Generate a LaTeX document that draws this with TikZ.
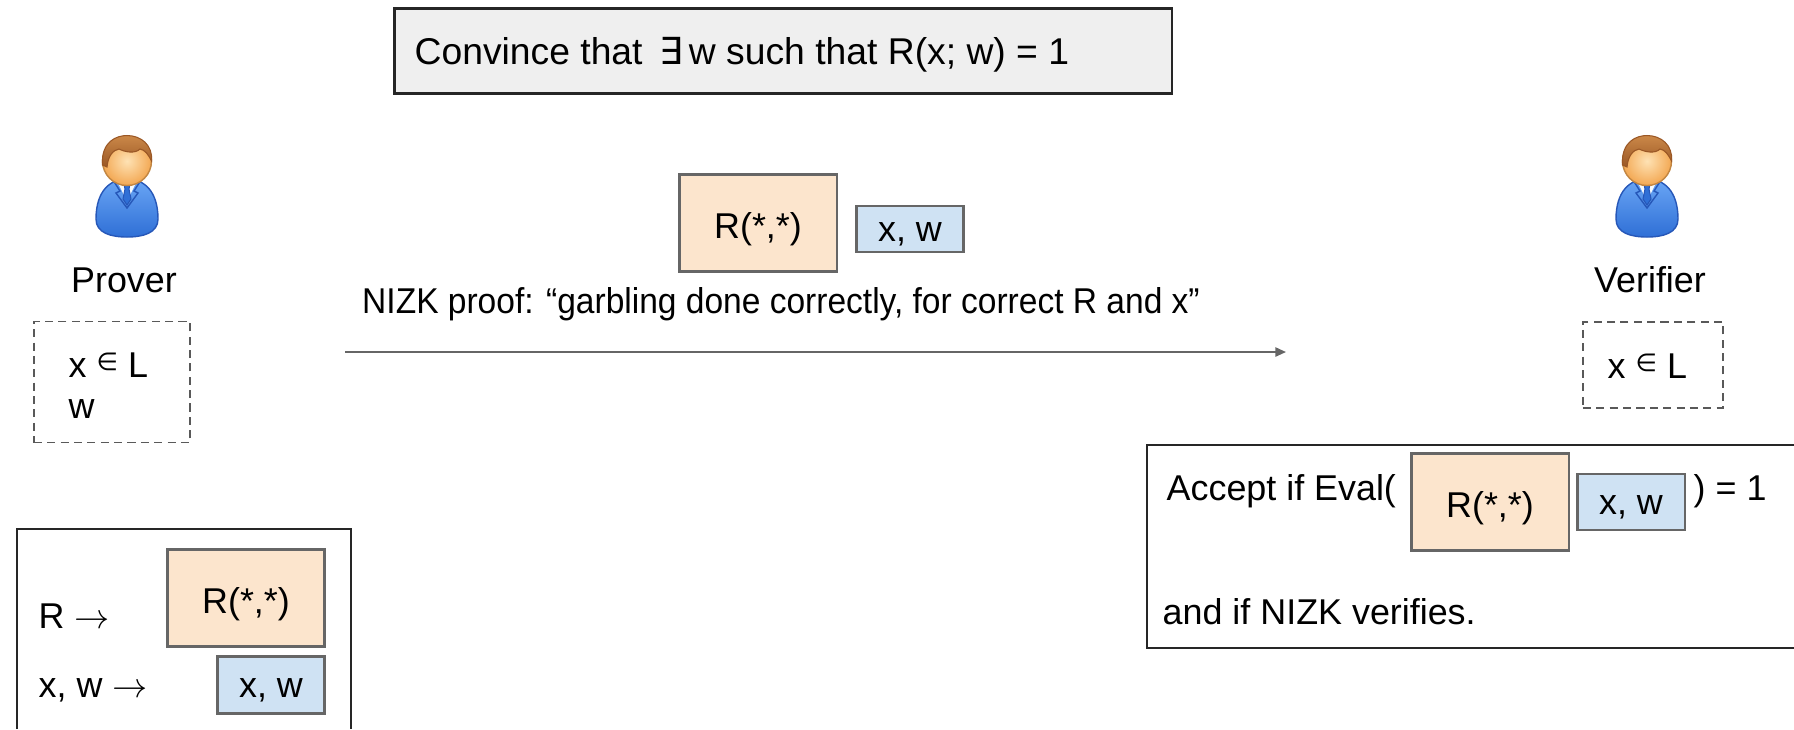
\documentclass[tikz,border=0pt]{standalone}
\usepackage{fontspec}
\setmainfont{Liberation Sans}
\newfontfamily\symfont{DejaVu Sans}
\usetikzlibrary{arrows.meta}

\definecolor{peach}{HTML}{FCE5CD}
\definecolor{paleblue}{HTML}{CFE2F3}
\definecolor{panelgray}{HTML}{EFEFEF}
\definecolor{edgegray}{HTML}{666666}
\definecolor{dashgray}{HTML}{595959}
\definecolor{suitlight}{HTML}{6AA6F5}
\definecolor{suitdark}{HTML}{2F6FD6}
\definecolor{suitedge}{HTML}{2657B8}
\definecolor{skinlight}{HTML}{FEE2B4}
\definecolor{skindark}{HTML}{F3A853}
\definecolor{hairlight}{HTML}{CB8848}
\definecolor{hairdark}{HTML}{9A5725}

% small raised element sign
\newcommand{\memberof}{{\symfont\fontsize{7}{7}\selectfont\raisebox{0.5ex}{∈}}}

% user icon, origin at the centre of the head (y grows downwards)
\tikzset{
  user/.pic={
    % suit
    \path[draw=suitedge,line width=0.4pt,top color=suitlight,bottom color=suitdark]
      (-31,58) .. controls (-31,30) and (-17,18) .. (0,18)
      .. controls (17,18) and (31,30) .. (31,58)
      .. controls (31,72) and (16,76) .. (0,76)
      .. controls (-16,76) and (-31,72) .. (-31,58) -- cycle;
    % collar and tie
    \fill[white!85!paleblue] (-10,20) -- (10,20) -- (0,40) -- cycle;
    \path[draw=suitedge,fill=suitdark,line width=0.3pt]
      (-3,23) -- (3,23) -- (2,28) -- (4,38) -- (0,44) -- (-4,38) -- (-2,28) -- cycle;
    \draw[suitedge,line width=0.4pt] (-14,19) -- (-7,30) -- (-11,32) -- (0,47) -- (11,32) -- (7,30) -- (14,19);
    % head
    \path[draw=skindark!80!black,line width=0.4pt,inner color=skinlight,outer color=skindark]
      (0,0) circle[radius=0.245cm];
    % hair
    \path[draw=hairdark,line width=0.3pt,top color=hairlight,bottom color=hairdark]
      (-24.5,4) .. controls (-26,-20) and (-10,-25.5) .. (0,-25.5)
      .. controls (14,-25.5) and (26,-16) .. (24.5,0)
      .. controls (21,-7) and (18,-11) .. (13,-12)
      .. controls (8,-7) and (-2,-9) .. (-8,-12)
      .. controls (-14,-11) and (-19,-5) .. (-20,6) -- cycle;
  }
}

\begin{document}
\begin{tikzpicture}[x=0.01cm,y=-0.01cm,
  every node/.style={font=\fontsize{10.2}{12}\selectfont},
  lbl/.style={inner sep=0pt},
  circbox/.style={draw=edgegray,fill=peach,line width=0.6pt,minimum width=1.57cm,minimum height=0.97cm,
    inner sep=0pt,text height=1.75ex,text depth=0.1ex},
  inbox/.style={draw=edgegray,fill=paleblue,line width=0.6pt,minimum width=1.07cm,
    inner sep=0pt,text height=7pt,text depth=0pt},
  holdbox/.style={draw=dashgray,dash pattern=on 2.3pt off 1.5pt,line width=0.5pt,inner sep=0pt},
  panel/.style={draw=black!85,line width=0.7pt},
  msgarrow/.style={draw=edgegray,line width=0.5pt,-{Triangle[length=3pt,width=2.6pt]}}]

\useasboundingbox (0,0) rectangle (1794,729);

% Statement to prove
\node[panel,fill=panelgray,minimum width=7.77cm,minimum height=0.85cm,inner sep=0pt] (claim) at (783,51) {};
\node[lbl,anchor=base west,font=\fontsize{10.6}{12}\selectfont] (claimtext) at (414,64)
  {Convince that \,{\symfont ∃}\,w such that R(x; w) = 1};

% Prover
\pic at (127,161) {user};
\node[lbl,anchor=base] (prover) at (124,292) {Prover};
\node[holdbox,minimum width=1.56cm,minimum height=1.21cm] (pknows) at (112,382) {};
\node[lbl,anchor=base west] (px) at (68,377) {x \memberof\ L};
\node[lbl,anchor=base west] (pw) at (68,418) {w};

% Verifier
\pic at (1647,161) {user};
\node[lbl,anchor=base] (verifier) at (1650,292) {Verifier};
\node[holdbox,minimum width=1.40cm,minimum height=0.86cm] (vknows) at (1653,365) {};
\node[lbl,anchor=base west] (vx) at (1607,378) {x \memberof\ L};

% Message sent to the verifier
\node[circbox] (gcirc) at (758,223) {R(*,*)};
\node[inbox,minimum height=0.46cm] (gin) at (910,229) {x, w};
\node[lbl,anchor=base] (nizk) at (781,313)
  {\scalebox{0.935}[1]{NIZK proof: “garbling done correctly, for correct R and x”}};
\coordinate (sendpt) at (345,352);
\coordinate (recvpt) at (1286,352);
\draw[msgarrow] (sendpt) -- (recvpt);

% Garbling done by the prover
\draw[panel] (17,729) |- (351,529) -- (351,729);
\node[lbl,anchor=base west] (rmap) at (38,628) {R $\rightarrow$};
\node[lbl,anchor=base west] (xwmap) at (38,697) {x, w $\rightarrow$};
\node[circbox] (pcirc) at (246,598) {R(*,*)};
\node[inbox,minimum height=0.57cm] (pin) at (271,685) {x, w};

% Verifier's check
\draw[panel] (1794,445) -| (1147,648) -- (1794,648);
\node[lbl,anchor=base west] (accept) at (1166,500) {Accept if Eval(};
\node[circbox] (vcirc) at (1490,502) {R(*,*)};
\node[inbox,minimum height=0.56cm] (vin) at (1631,502) {x, w};
\node[lbl,anchor=base west] (evalone) at (1693,500) {) = 1};
\node[lbl,anchor=base west] (andif) at (1162,624) {and if NIZK verifies.};

\end{tikzpicture}
\end{document}
